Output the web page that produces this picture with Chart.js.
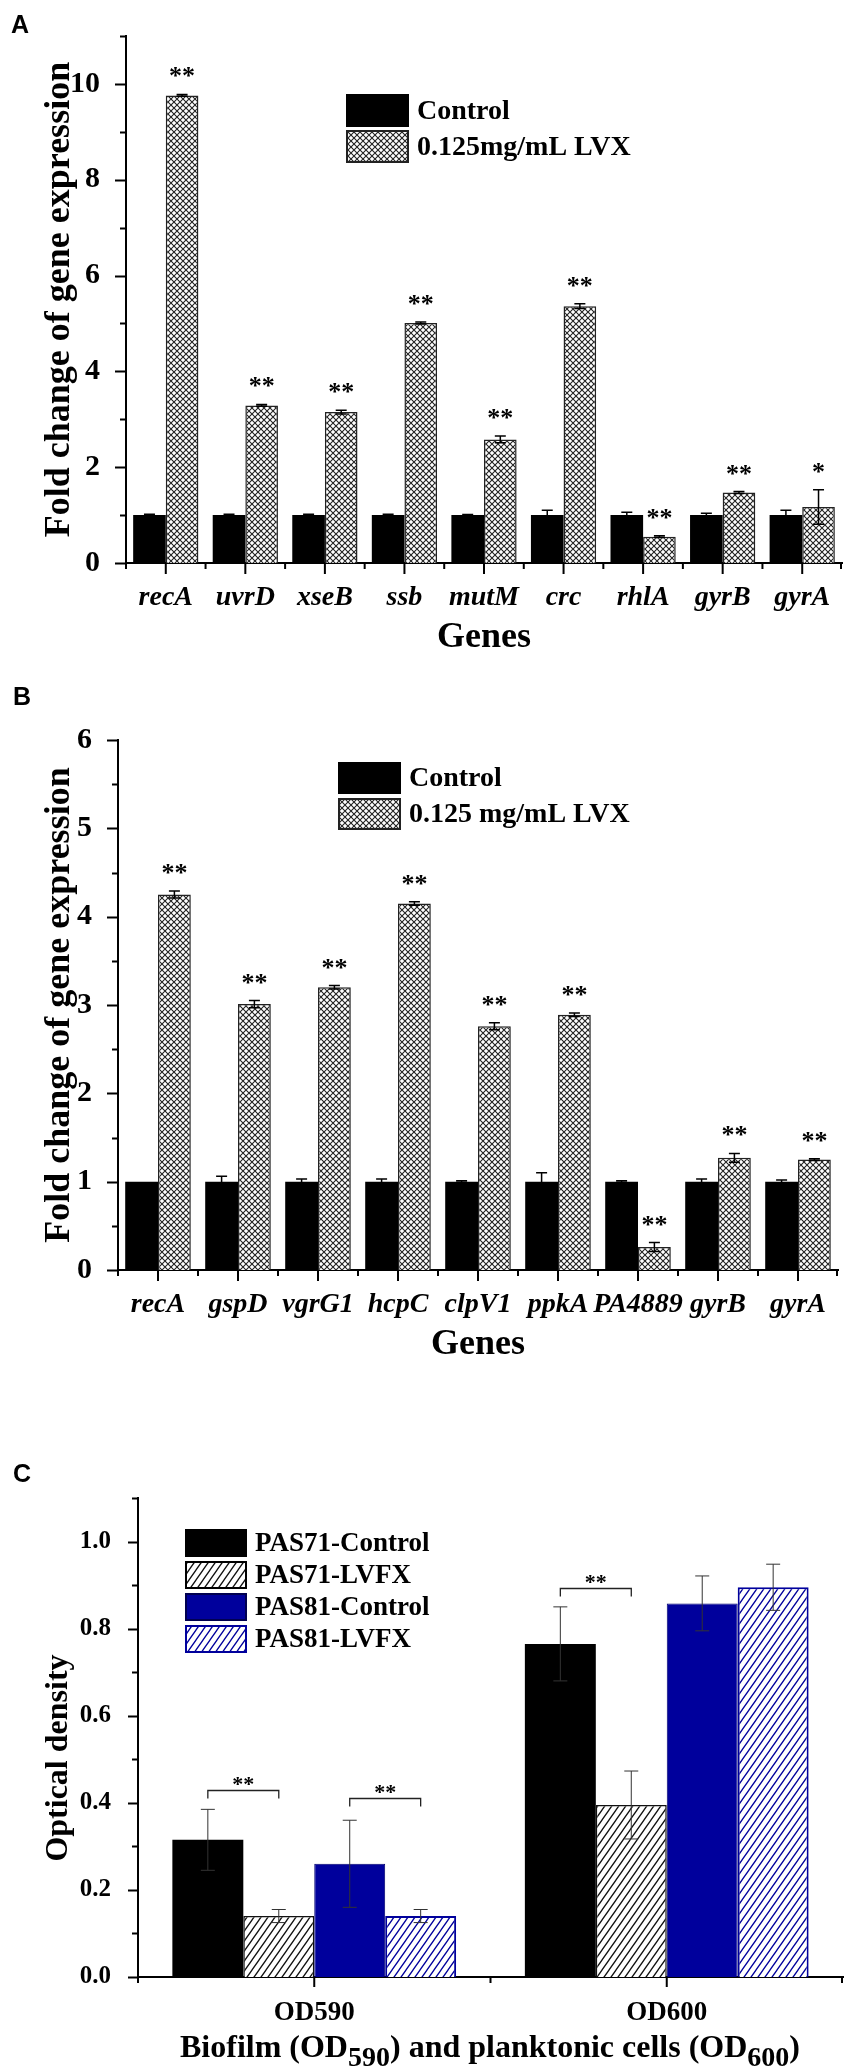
<!DOCTYPE html>
<html>
<head>
<meta charset="utf-8">
<script src="https://cdn.jsdelivr.net/npm/chart.js@4.4.0/dist/chart.umd.min.js"></script>
<style>
  body { margin: 0; background: #fff; width: 854px; height: 2071px; position: relative; overflow: hidden; }
  canvas { position: absolute; left: 0; }
  .tag { position: absolute; font-family: 'Liberation Sans', Arial, sans-serif; font-weight: bold; font-size: 25px; line-height: 1; }
</style>
</head>
<body>
<canvas id="chartA" width="854" height="663" style="top:0"></canvas>
<canvas id="chartB" width="854" height="670" style="top:700px"></canvas>
<canvas id="chartC" width="854" height="631" style="top:1440px"></canvas>
<div class="tag" style="left:11px;top:12px">A</div>
<div class="tag" style="left:13px;top:684px">B</div>
<div class="tag" style="left:13px;top:1461px">C</div>
<script>
// panel A data
const genesA = ['recA', 'uvrD', 'xseB', 'ssb', 'mutM', 'crc', 'rhlA', 'gyrB', 'gyrA'];
const controlA = [1, 1, 1, 1, 1, 1, 1, 1, 1];
const controlErrA = [0.02, 0.02, 0.02, 0.02, 0.01, 0.1, 0.06, 0.04, 0.1];
const lvxA = [9.76, 3.29, 3.15, 5.01, 2.58, 5.36, 0.55, 1.47, 1.17];
const lvxErrA = [0.02, 0.02, 0.04, 0.02, 0.07, 0.05, 0.02, 0.02, 0.36];
const starsA = ['**', '**', '**', '**', '**', '**', '**', '**', '*'];

// panel B data
const genesB = ['recA', 'gspD', 'vgrG1', 'hcpC', 'clpV1', 'ppkA', 'PA4889', 'gyrB', 'gyrA'];
const controlB = [1, 1, 1, 1, 1, 1, 1, 1, 1];
const controlErrB = [0, 0.06, 0.03, 0.03, 0.01, 0.1, 0.01, 0.03, 0.02];
const lvxB = [4.25, 3.01, 3.2, 4.15, 2.76, 2.89, 0.26, 1.27, 1.25];
const lvxErrB = [0.04, 0.04, 0.02, 0.02, 0.04, 0.02, 0.05, 0.05, 0.01];
const starsB = ['**', '**', '**', '**', '**', '**', '**', '**', '**'];

// panel C data
const groupsC = ['OD590', 'OD600'];
const pas71Control = [0.315, 0.765];
const pas71ControlErr = [0.07, 0.085];
const pas71Lvfx = [0.14, 0.395];
const pas71LvfxErr = [0.015, 0.078];
const pas81Control = [0.26, 0.858];
const pas81ControlErr = [0.1, 0.063];
const pas81Lvfx = [0.14, 0.895];
const pas81LvfxErr = [0.015, 0.053];

const SERIF = "'Liberation Serif', 'Times New Roman', serif";
const BLUE = '#00009c';

function crossHatch() {
    const s = 6;
    const c = document.createElement('canvas');
    c.width = s; c.height = s;
    const g = c.getContext('2d');
    g.fillStyle = '#fff';
    g.fillRect(0, 0, s, s);
    g.strokeStyle = '#222';
    g.lineWidth = 1.1;
    g.beginPath();
    g.moveTo(0, 0); g.lineTo(s, s);
    g.moveTo(s, 0); g.lineTo(0, s);
    g.stroke();
    return g.createPattern(c, 'repeat');
}

function slantHatch(color) {
    const w = 7, h = 10;
    const c = document.createElement('canvas');
    c.width = w; c.height = h;
    const g = c.getContext('2d');
    g.fillStyle = '#fff';
    g.fillRect(0, 0, w, h);
    g.strokeStyle = color;
    g.lineWidth = 1.3;
    g.beginPath();
    g.moveTo(-0.7, h + 1); g.lineTo(w + 0.7, -1);
    g.moveTo(-0.7, 1); g.lineTo(0.7, -1);
    g.moveTo(w - 0.7, h + 1); g.lineTo(w + 0.7, h - 1);
    g.stroke();
    return g.createPattern(c, 'repeat');
}

const cross = crossHatch();
const slantBlack = slantHatch('#111');
const slantBlue = slantHatch(BLUE);

// error bars, stars, ticks, legend, brackets
const decor = {
    id: 'decor',
    afterDraw(chart) {
        const o = chart.options.plugins.decor;
        if (!o) return;
        const ctx = chart.ctx;
        const xs = chart.scales.x, ys = chart.scales.y;
        ctx.save();

        // axis ticks
        ctx.strokeStyle = '#000';
        ctx.lineWidth = 2;
        ctx.beginPath();
        for (let v = 0; v <= o.yTop + 1e-9; v += o.yMinor) {
            const isMajor = Math.abs(v / o.yMajor - Math.round(v / o.yMajor)) < 1e-6;
            const py = Math.round(ys.getPixelForValue(v)) + 0.5;
            ctx.moveTo(ys.right, py);
            ctx.lineTo(ys.right - (isMajor ? o.majorLen : o.minorLen), py);
        }
        const n = chart.data.labels.length;
        const half = (xs.getPixelForValue(1) - xs.getPixelForValue(0)) / 2;
        for (let i = 0; i < n; i++) {
            const cx = xs.getPixelForValue(i);
            ctx.moveTo(cx, xs.top);
            ctx.lineTo(cx, xs.top + o.majorLen);
            ctx.moveTo(cx - half, xs.top);
            ctx.lineTo(cx - half, xs.top + o.minorLen);
        }
        const endX = xs.getPixelForValue(n - 1) + half - 1;
        ctx.moveTo(endX, xs.top);
        ctx.lineTo(endX, xs.top + o.minorLen);
        ctx.stroke();

        // error bars and stars
        chart.data.datasets.forEach((ds, di) => {
            const meta = chart.getDatasetMeta(di);
            meta.data.forEach((bar, i) => {
                const v = ds.data[i];
                const e = ds.errors ? ds.errors[i] : 0;
                const top = ys.getPixelForValue(v + e);
                if (e) {
                    const bot = ys.getPixelForValue(v - e);
                    ctx.strokeStyle = o.errColor;
                    ctx.lineWidth = o.errWidth;
                    ctx.beginPath();
                    ctx.moveTo(bar.x, top); ctx.lineTo(bar.x, bot);
                    ctx.moveTo(bar.x - o.cap, top); ctx.lineTo(bar.x + o.cap, top);
                    ctx.moveTo(bar.x - o.cap, bot); ctx.lineTo(bar.x + o.cap, bot);
                    ctx.stroke();
                }
                if (ds.stars && ds.stars[i]) {
                    ctx.fillStyle = '#000';
                    ctx.font = 'bold 26px ' + SERIF;
                    ctx.textAlign = 'center';
                    ctx.textBaseline = 'alphabetic';
                    ctx.fillText(ds.stars[i], bar.x, top - 10);
                }
            });
        });

        // significance brackets
        (o.brackets || []).forEach(b => {
            const xa = chart.getDatasetMeta(b.a).data[b.group].x;
            const xb = chart.getDatasetMeta(b.b).data[b.group].x;
            const yl = Math.round(ys.getPixelForValue(b.level)) + 0.5;
            ctx.strokeStyle = '#222';
            ctx.lineWidth = 1.3;
            ctx.beginPath();
            ctx.moveTo(xa, yl + 8); ctx.lineTo(xa, yl); ctx.lineTo(xb, yl); ctx.lineTo(xb, yl + 8);
            ctx.stroke();
            ctx.fillStyle = '#000';
            ctx.font = 'bold 22px ' + SERIF;
            ctx.textAlign = 'center';
            ctx.textBaseline = 'alphabetic';
            ctx.fillText('**', (xa + xb) / 2, yl);
        });

        // legend
        const lg = o.legend;
        if (lg) {
            lg.items.forEach((it, k) => {
                const ly = lg.y + k * lg.step;
                ctx.fillStyle = it.fill;
                ctx.fillRect(lg.x, ly, lg.w, lg.h);
                ctx.strokeStyle = it.stroke;
                ctx.lineWidth = 2;
                ctx.strokeRect(lg.x + 1, ly + 1, lg.w - 2, lg.h - 2);
                ctx.fillStyle = '#000';
                ctx.font = 'bold ' + lg.size + 'px ' + SERIF;
                ctx.textAlign = 'left';
                ctx.textBaseline = 'middle';
                ctx.fillText(it.text, lg.x + lg.w + 8, ly + lg.h / 2 + 1);
            });
        }

        // rotated y title placed by hand
        const yt = o.yTitle;
        if (yt) {
            ctx.save();
            ctx.translate(yt.x, yt.y);
            ctx.rotate(-Math.PI / 2);
            ctx.fillStyle = '#000';
            ctx.font = 'bold ' + yt.size + 'px ' + SERIF;
            ctx.textAlign = 'center';
            ctx.textBaseline = 'middle';
            ctx.fillText(yt.text, 0, 0);
            ctx.restore();
        }

        // x title with subscripts
        const st = o.subTitle;
        if (st) {
            const subSize = Math.round(st.size * 0.88);
            let total = 0;
            st.parts.forEach(p => {
                ctx.font = 'bold ' + (p[1] ? subSize : st.size) + 'px ' + SERIF;
                total += ctx.measureText(p[0]).width;
            });
            let px = st.cx - total / 2;
            ctx.fillStyle = '#000';
            ctx.textAlign = 'left';
            ctx.textBaseline = 'alphabetic';
            st.parts.forEach(p => {
                ctx.font = 'bold ' + (p[1] ? subSize : st.size) + 'px ' + SERIF;
                ctx.fillText(p[0], px, st.base + (p[1] ? 9 : 0));
                px += ctx.measureText(p[0]).width;
            });
        }
        ctx.restore();
    }
};

function geneChart(id, genes, ctrl, ctrlErr, lvx, lvxErr, stars, yMax, yMajor, yMinor, yWidth, padTop, padRight, legend) {
    return new Chart(document.getElementById(id), {
        type: 'bar',
        data: {
            labels: genes,
            datasets: [{
                data: ctrl,
                errors: ctrlErr,
                backgroundColor: '#000',
                borderWidth: 0,
                categoryPercentage: 0.82,
                barPercentage: 1.0
            }, {
                data: lvx,
                errors: lvxErr,
                stars: stars,
                backgroundColor: cross,
                borderColor: '#222',
                borderWidth: 1.5,
                categoryPercentage: 0.82,
                barPercentage: 1.0
            }]
        },
        options: {
            responsive: false,
            animation: false,
            layout: { padding: { top: padTop, right: padRight, left: 0, bottom: 0 } },
            plugins: {
                legend: { display: false },
                tooltip: { enabled: false },
                decor: {
                    yTop: yMax, yMajor: yMajor, yMinor: yMinor,
                    majorLen: 11, minorLen: 6,
                    errColor: '#000', errWidth: 1.5, cap: 5.5,
                    legend: legend
                }
            },
            scales: {
                x: {
                    afterFit: s => { s.height = 100; },
                    grid: { display: false },
                    border: { display: true, color: '#000', width: 2 },
                    ticks: {
                        color: '#000', autoSkip: false, maxRotation: 0, minRotation: 0, padding: 10,
                        font: { family: SERIF, size: 28, weight: 'bold', style: 'italic' }
                    },
                    title: {
                        display: true, text: 'Genes', color: '#000',
                        font: { family: SERIF, size: 36, weight: 'bold' },
                        padding: { top: 0, bottom: 4 }
                    }
                },
                y: {
                    min: 0, max: yMax,
                    afterFit: s => { s.width = yWidth; },
                    grid: { display: false },
                    border: { display: true, color: '#000', width: 2 },
                    ticks: {
                        stepSize: yMajor, includeBounds: false, color: '#000', padding: 18,
                        font: { family: SERIF, size: 30, weight: 'bold' }
                    },
                    title: {
                        display: true, text: 'Fold change of gene expression', color: '#000',
                        font: { family: SERIF, size: 36, weight: 'bold' },
                        padding: { top: 38, bottom: 0 }
                    }
                }
            }
        },
        plugins: [decor]
    });
}

geneChart('chartA', genesA, controlA, controlErrA, lvxA, lvxErrA, starsA, 11, 2, 1, 126, 35, 12, {
    x: 346, y: 94, w: 63, h: 33, step: 36, size: 28,
    items: [
        { fill: '#000', stroke: '#000', text: 'Control' },
        { fill: cross, stroke: '#222', text: '0.125mg/mL LVX' }
    ]
});

geneChart('chartB', genesB, controlB, controlErrB, lvxB, lvxErrB, starsB, 6, 1, 0.5, 118, 40, 16, {
    x: 338, y: 62, w: 63, h: 32, step: 36, size: 28,
    items: [
        { fill: '#000', stroke: '#000', text: 'Control' },
        { fill: cross, stroke: '#222', text: '0.125 mg/mL LVX' }
    ]
});

new Chart(document.getElementById('chartC'), {
    type: 'bar',
    data: {
        labels: groupsC,
        datasets: [
            { data: pas71Control, errors: pas71ControlErr, backgroundColor: '#000', borderWidth: 0 },
            { data: pas71Lvfx, errors: pas71LvfxErr, backgroundColor: slantBlack, borderColor: '#111', borderWidth: 1.5 },
            { data: pas81Control, errors: pas81ControlErr, backgroundColor: BLUE, borderColor: '#000070', borderWidth: 1 },
            { data: pas81Lvfx, errors: pas81LvfxErr, backgroundColor: slantBlue, borderColor: BLUE, borderWidth: 2 }
        ].map(d => Object.assign(d, { categoryPercentage: 0.805, barPercentage: 1.0 }))
    },
    options: {
        responsive: false,
        animation: false,
        layout: { padding: { top: 58, right: 11, left: 0, bottom: 0 } },
        plugins: {
            legend: { display: false },
            tooltip: { enabled: false },
            decor: {
                yTop: 1.1, yMajor: 0.2, yMinor: 0.1,
                majorLen: 10, minorLen: 6,
                errColor: '#333', errWidth: 1, cap: 7,
                brackets: [
                    { group: 0, a: 0, b: 1, level: 0.43 },
                    { group: 0, a: 2, b: 3, level: 0.41 },
                    { group: 1, a: 0, b: 1, level: 0.893 }
                ],
                legend: {
                    x: 185, y: 89, w: 62, h: 28, step: 32, size: 27,
                    items: [
                        { fill: '#000', stroke: '#000', text: 'PAS71-Control' },
                        { fill: slantBlack, stroke: '#000', text: 'PAS71-LVFX' },
                        { fill: BLUE, stroke: '#000050', text: 'PAS81-Control' },
                        { fill: slantBlue, stroke: BLUE, text: 'PAS81-LVFX' }
                    ]
                },
                yTitle: { text: 'Optical density', x: 59, y: 318, size: 32 },
                subTitle: {
                    cx: 490, base: 617, size: 32,
                    parts: [['Biofilm (OD', false], ['590', true], [') and planktonic cells (OD', false], ['600', true], [')', false]]
                }
            }
        },
        scales: {
            x: {
                afterFit: s => { s.height = 94; },
                grid: { display: false },
                border: { display: true, color: '#000', width: 2 },
                ticks: {
                    color: '#000', autoSkip: false, maxRotation: 0, padding: 12,
                    font: { family: SERIF, size: 27, weight: 'bold' }
                }
            },
            y: {
                min: 0, max: 1.1,
                afterFit: s => { s.width = 138; },
                grid: { display: false },
                border: { display: true, color: '#000', width: 2 },
                ticks: {
                    stepSize: 0.2, includeBounds: false, color: '#000', padding: 19,
                    font: { family: SERIF, size: 25, weight: 'bold' },
                    callback: v => v.toFixed(1)
                }
            }
        }
    },
    plugins: [decor]
});
</script>
</body>
</html>
